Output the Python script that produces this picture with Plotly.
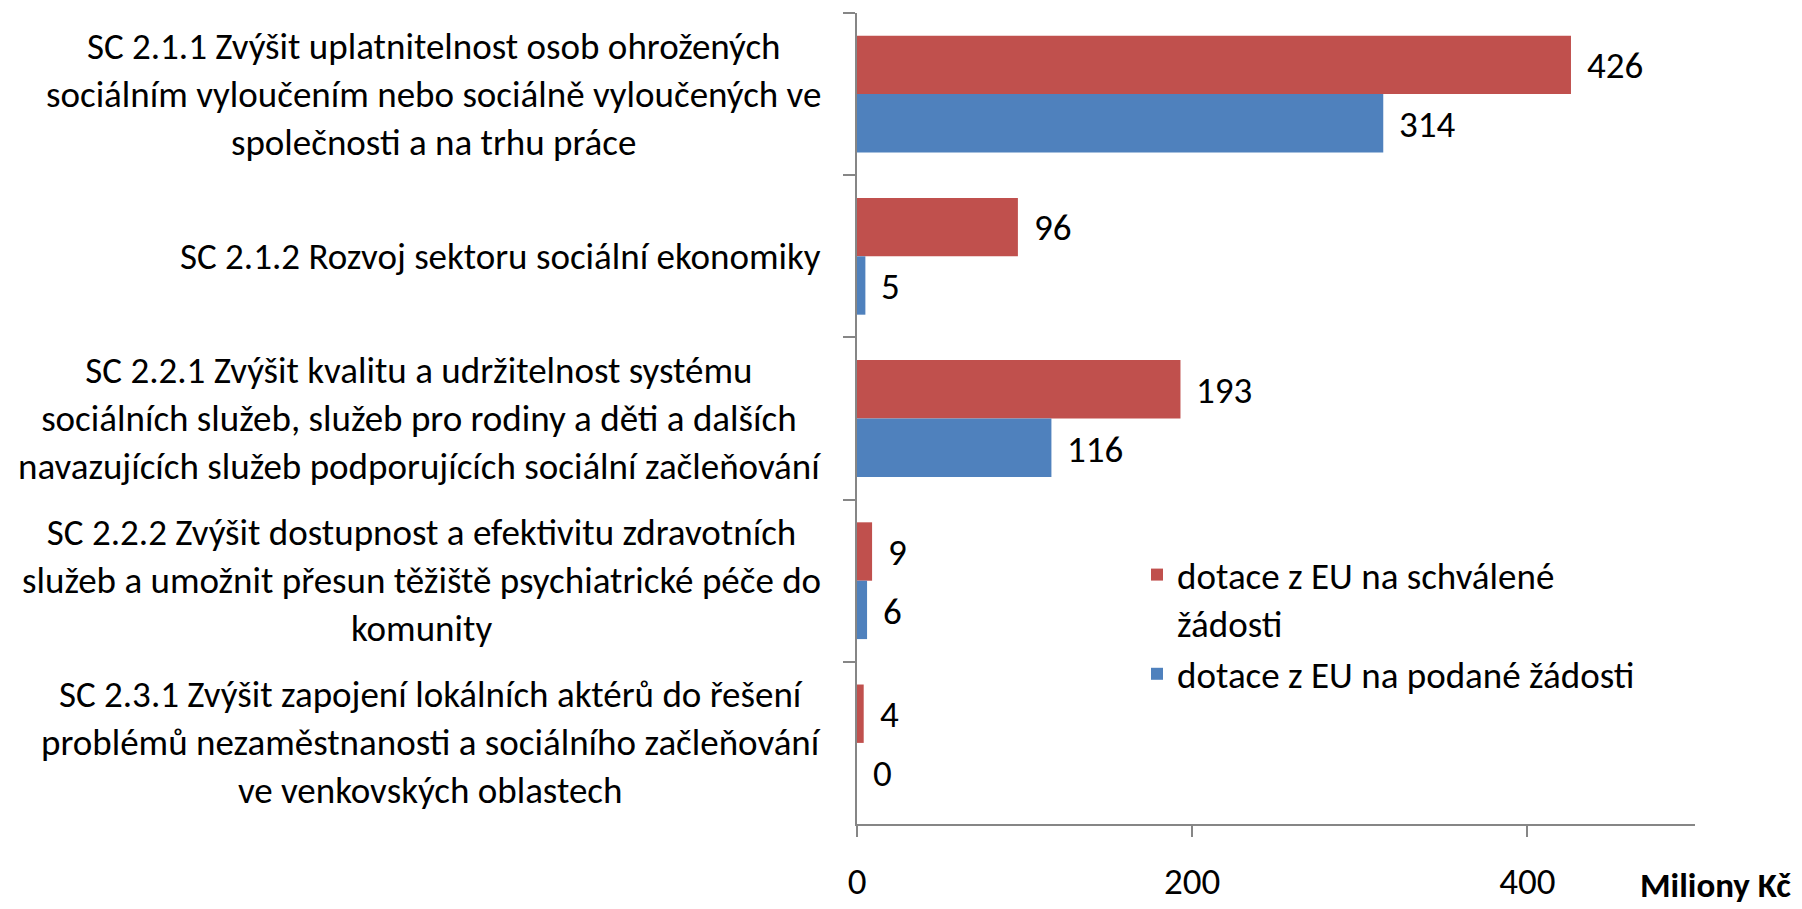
import plotly.graph_objects as go

categories = [
    "SC 2.1.1 Zvýšit uplatnitelnost osob ohrožených<br>sociálním vyloučením nebo sociálně vyloučených ve<br>společnosti a na trhu práce",
    "SC 2.1.2 Rozvoj sektoru sociální ekonomiky",
    "SC 2.2.1 Zvýšit kvalitu a udržitelnost systému<br>sociálních služeb, služeb pro rodiny a děti a dalších<br>navazujících služeb podporujících sociální začleňování",
    "SC 2.2.2 Zvýšit dostupnost a efektivitu zdravotních<br>služeb a umožnit přesun těžiště psychiatrické péče do<br>komunity",
    "SC 2.3.1 Zvýšit zapojení lokálních aktérů do řešení<br>problémů nezaměstnanosti a sociálního začleňování<br>ve venkovských oblastech",
]
approved = [426, 96, 193, 9, 4]
submitted = [314, 5, 116, 6, 0]
series_names = ["dotace z EU na schválené<br>žádosti", "dotace z EU na podané žádosti"]
x_ticks = [0, 200, 400]
unit_label = "Miliony Kč"

FONT = "Carlito, Calibri, 'Liberation Sans Narrow', 'Open Sans', sans-serif"
FS = 37
RED = "#C0504D"
BLUE = "#4F81BD"
AXIS = "#868686"

OFF = 8  # browser body margin
W, H = 1802 - OFF, 909 - OFF
PX_L, PX_R, PX_T, PX_B = 857 - OFF, 1695 - OFF, 13 - OFF, 827 - OFF
L, R, T, B = PX_L, W - PX_R, PX_T, H - PX_B
plot_w = PX_R - PX_L
plot_h = PX_B - PX_T

fig = go.Figure()
fig.add_trace(go.Bar(y=categories, x=approved, orientation="h", name=series_names[0],
                     marker=dict(color=RED, line=dict(width=0))))
fig.add_trace(go.Bar(y=categories, x=submitted, orientation="h", name=series_names[1],
                     marker=dict(color=BLUE, line=dict(width=0))))

annotations = []
half = 29.5
for cat, a, s in zip(categories, approved, submitted):
    annotations.append(dict(x=a, y=cat, xref="x", yref="y", text=str(a), showarrow=False,
                            xanchor="left", yanchor="middle", xshift=14, yshift=half - 1,
                            font=dict(family=FONT, size=FS, color="black")))
    annotations.append(dict(x=s, y=cat, xref="x", yref="y", text=str(s), showarrow=False,
                            xanchor="left", yanchor="middle", xshift=14, yshift=-half - 1,
                            font=dict(family=FONT, size=FS, color="black")))
    annotations.append(dict(x=-(857 - 823) / plot_w, y=cat, xref="paper", yref="y", text=cat,
                            showarrow=False, xanchor="right", yanchor="middle", align="center",
                            font=dict(family=FONT, size=FS, color="black")))

annotations.append(dict(x=1 + (1793 - 1695) / plot_w, y=-(888 - 827) / plot_h, xref="paper", yref="paper",
                        text="<b>" + unit_label + "</b>", showarrow=False, xanchor="right", yanchor="middle",
                        font=dict(family=FONT, size=35, color="black")))

fig.update_layout(
    width=W, height=H,
    margin=dict(l=L, r=R, t=T, b=B, pad=0),
    paper_bgcolor="white", plot_bgcolor="white",
    barmode="group", bargap=0.28, bargroupgap=0,
    font=dict(family=FONT, size=FS, color="black"),
    showlegend=True,
    legend=dict(x=(1137 - 857) / plot_w, y=(827 - 546) / plot_h, xanchor="left", yanchor="top",
                bgcolor="rgba(0,0,0,0)", font=dict(family=FONT, size=FS, color="black"),
                valign="top", traceorder="normal", itemclick=False),
    annotations=annotations,
)
fig.update_xaxes(range=[0, 500], tickvals=x_ticks, ticktext=[str(v) for v in x_ticks],
                 showgrid=False, zeroline=False, showline=True, linecolor=AXIS, linewidth=2,
                 ticks="outside", ticklen=11, tickwidth=2, tickcolor=AXIS,
                 tickfont=dict(family=FONT, size=FS, color="black"), ticklabelstandoff=13)
fig.update_yaxes(autorange="reversed", showticklabels=False, showgrid=False, zeroline=False,
                 showline=True, linecolor=AXIS, linewidth=2,
                 ticks="outside", ticklen=12, tickwidth=2, tickcolor=AXIS, tickson="boundaries")

fig.write_html("out.html")
